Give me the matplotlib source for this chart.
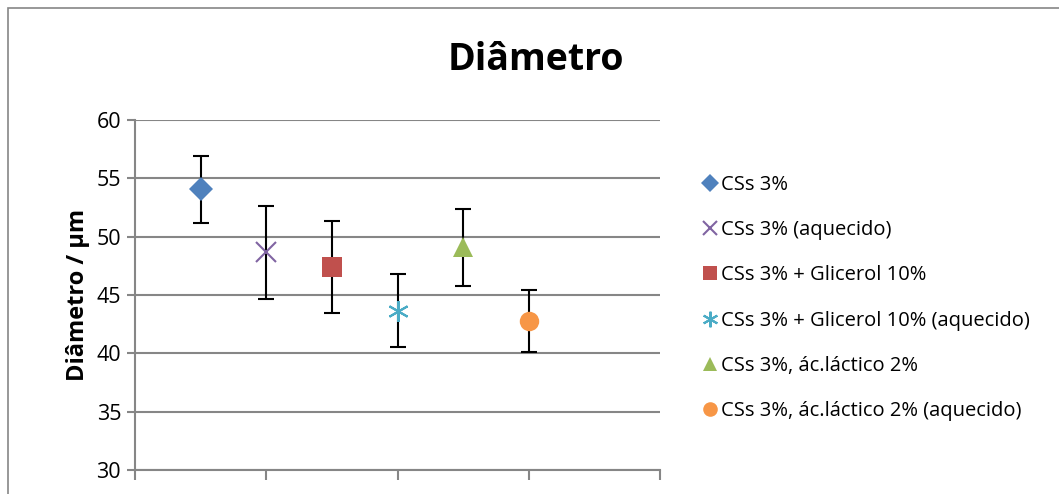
import matplotlib.pyplot as plt
from matplotlib.patches import Rectangle

# dados
labels = ['CSs 3%', 'CSs 3% (aquecido)', 'CSs 3% + Glicerol 10%',
          'CSs 3% + Glicerol 10% (aquecido)', 'CSs 3%, ác.láctico 2%',
          'CSs 3%, ác.láctico 2% (aquecido)']
x_pos = [1, 2, 3, 4, 5, 6]
diametro = [54.05, 48.65, 47.4, 43.65, 49.1, 42.75]
erro = [2.85, 3.95, 3.95, 3.15, 3.3, 2.65]

cores = ['#4F81BD', '#8064A2', '#C0504D', '#4BACC6', '#9BBB59', '#F79646']
marcas = ['D', 'x', 's', '*', '^', 'o']
tamanhos = [12, 14, 14, 15, 14, 14]

plt.rcParams['font.family'] = ['Open Sans', 'DejaVu Sans']

fig = plt.figure(figsize=(10.59, 4.94), dpi=100)
ax = fig.add_axes([135 / 1059, 1 - 470 / 494, 525 / 1059, 350 / 494])

# borda do gráfico (cortada à direita e em baixo)
fig.patches.append(Rectangle((8 / 1059, -0.1), 1.2, 1 - 8 / 494 + 0.1,
                             transform=fig.transFigure, fill=False,
                             edgecolor='#868686', linewidth=1.2))

for i in range(len(labels)):
    ax.errorbar(x_pos[i], diametro[i], yerr=erro[i], fmt='none',
                ecolor='black', elinewidth=1.5, capsize=6, capthick=1.5, zorder=3)
    if marcas[i] in ('x', '*'):
        ax.plot(x_pos[i], diametro[i], marker='x' if marcas[i] == 'x' else (6, 2, 0),
                linestyle='none', color=cores[i], markersize=tamanhos[i],
                markeredgewidth=1.5, label=labels[i], zorder=4)
    else:
        ax.plot(x_pos[i], diametro[i], marker=marcas[i], linestyle='none',
                color=cores[i], markersize=tamanhos[i], markeredgewidth=0,
                label=labels[i], zorder=4)

ax.set_xlim(0, 8)
ax.set_ylim(30, 60)
ax.set_xticks([0, 2, 4, 6, 8])
ax.set_xticklabels([])
ax.set_yticks([30, 35, 40, 45, 50, 55, 60])
ax.tick_params(axis='y', labelsize=15.5, length=6, width=1.5, color='#868686', pad=4)
ax.tick_params(axis='x', length=7, width=1.5, color='#868686')
ax.yaxis.grid(True, color='#868686', linewidth=1.5)
ax.set_axisbelow(True)
for s in ['top', 'right']:
    ax.spines[s].set_visible(False)
for s in ['left', 'bottom']:
    ax.spines[s].set_color('#868686')
    ax.spines[s].set_linewidth(1.5)

ax.set_ylabel('Diâmetro / µm', fontsize=17, fontweight='bold', labelpad=5)
fig.text(536 / 1059, 1 - 60 / 494, 'Diâmetro', fontsize=27, fontweight='bold',
         ha='center', va='center')

leg = fig.legend(loc='upper left', bbox_to_anchor=(686 / 1059, 1 - 157 / 494),
                 frameon=False, fontsize=14.5, labelspacing=1.25,
                 handlelength=0.6, handletextpad=0.25, markerscale=0.75)

fig.savefig('out.png', dpi=100)
